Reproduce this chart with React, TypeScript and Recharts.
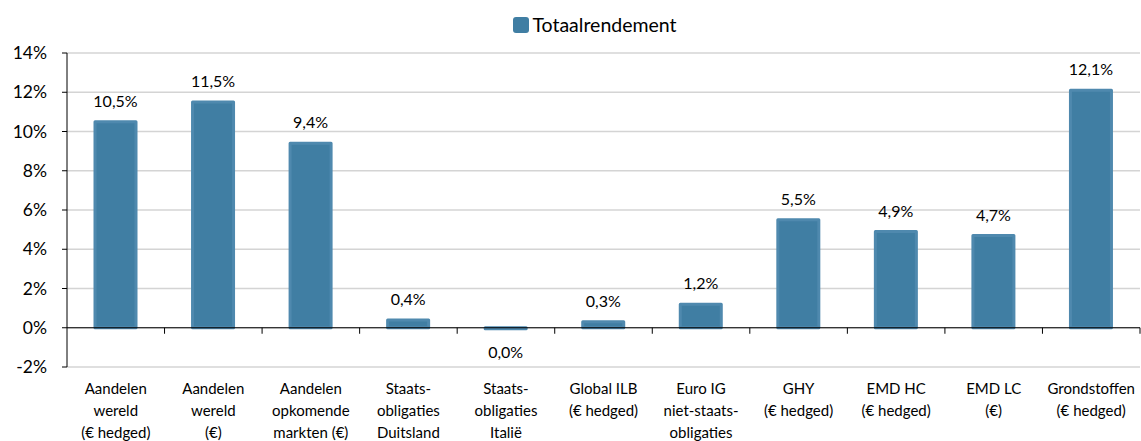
import React from 'react';
import { BarChart, Bar, XAxis, YAxis, CartesianGrid, Legend, LabelList, ReferenceLine } from 'recharts';

const categories = [
  "Aandelen\nwereld\n(€ hedged)",
  "Aandelen\nwereld\n(€)",
  "Aandelen\nopkomende\nmarkten (€)",
  "Staats-\nobligaties\nDuitsland",
  "Staats-\nobligaties\nItalië",
  "Global ILB\n(€ hedged)",
  "Euro IG\nniet-staats-\nobligaties",
  "GHY\n(€ hedged)",
  "EMD HC\n(€ hedged)",
  "EMD LC\n(€)",
  "Grondstoffen\n(€ hedged)",
];
const totaalrendement = [10.5, 11.5, 9.4, 0.4, -0.045, 0.3, 1.2, 5.5, 4.9, 4.7, 12.1];
const yTicks = [-2, 0, 2, 4, 6, 8, 10, 12, 14];
const seriesName = "Totaalrendement";

const data = categories.map((c, i) => ({ name: c, value: totaalrendement[i] }));

const FONT = "Lato, 'Noto Sans', sans-serif";
const BAR_FILL = "#407EA3";
const BAR_STROKE = "#4F89AE";

const fmt = (v: number) => {
  let s = v.toFixed(1);
  if (s === "-0.0") s = "0.0";
  return s.replace(".", ",") + "%";
};

const XTick = (props: any) => {
  const { x, y, payload } = props;
  const lines = String(payload.value).split("\n");
  return (
    <text x={x} y={y} textAnchor="middle" fontSize={15} fill="#000" fontFamily={FONT}>
      {lines.map((l, i) => (
        <tspan key={i} x={x} dy={i === 0 ? 25 : 22}>{l}</tspan>
      ))}
    </text>
  );
};

const BarLabel = (props: any) => {
  const { x, y, width, height, value } = props;
  const cx = x + width / 2;
  const top = Math.min(y, y + height);
  const bottom = Math.max(y, y + height);
  const ty = value >= 0 ? top - 15 : bottom + 29;
  return (
    <text x={cx} y={ty} textAnchor="middle" fontSize={16} fill="#000" fontFamily={FONT}>
      {fmt(value)}
    </text>
  );
};

const ZeroLine = (props: any) => {
  const { x1, y1, x2, y2 } = props;
  const n = data.length;
  const step = (x2 - x1) / n;
  const ticks = [];
  for (let i = 1; i <= n; i++) {
    const tx = x1 + step * i;
    ticks.push(<line key={i} x1={tx} x2={tx} y1={y1} y2={y1 + 6} stroke="#000" strokeWidth={1} />);
  }
  return (
    <g>
      <line x1={x1} y1={y1} x2={x2} y2={y2} stroke="#000" strokeWidth={1.2} />
      {ticks}
    </g>
  );
};

const LegendContent = () => (
  <div style={{ display: 'flex', justifyContent: 'center', alignItems: 'center', fontFamily: FONT, fontSize: 19.5, color: '#000', paddingLeft: 50 }}>
    <span style={{ display: 'inline-block', width: 16, height: 16, background: BAR_FILL, borderRadius: 3, marginRight: 3 }} />
    <span>{seriesName}</span>
  </div>
);

export default function App() {
  return (
    <div style={{ position: 'absolute', left: 0, top: 0, width: 1141, height: 441, background: '#fff' }}>
      <BarChart width={1141} height={441} data={data} margin={{ top: 13, right: 1, bottom: 0, left: 0 }}>
        <CartesianGrid vertical={false} stroke="#D4D4D4" strokeWidth={1.5} />
        <Legend verticalAlign="top" align="center" height={40} content={<LegendContent />} />
        <XAxis dataKey="name" interval={0} axisLine={false} tickLine={false} height={74} tick={<XTick />} tickSize={0} />
        <YAxis
          domain={[-2, 14]}
          ticks={yTicks}
          width={67}
          tickFormatter={(v: number) => `${v}%`}
          tick={{ fontSize: 17.5, fill: '#000', fontFamily: FONT }}
          axisLine={{ stroke: '#000', strokeWidth: 1 }}
          tickLine={{ stroke: '#000' }}
          tickSize={5}
          tickMargin={15}
        />
        <ReferenceLine y={0} shape={<ZeroLine />} />
        <Bar dataKey="value" name={seriesName} fill={BAR_FILL} stroke={BAR_STROKE} strokeWidth={3} strokeLinejoin="round" barSize={41} isAnimationActive={false}>
          <LabelList dataKey="value" content={<BarLabel />} />
        </Bar>
      </BarChart>
    </div>
  );
}
